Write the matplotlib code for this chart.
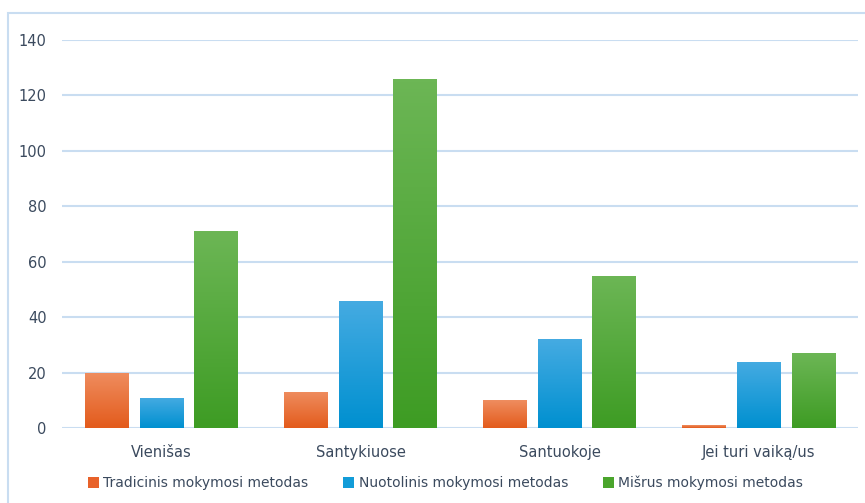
import matplotlib.pyplot as plt
import numpy as np
from matplotlib.colors import LinearSegmentedColormap
from matplotlib.patches import Rectangle, Patch

categories = ['Vienišas', 'Santykiuose', 'Santuokoje', 'Jei turi vaiką/us']
series = ['Tradicinis mokymosi metodas', 'Nuotolinis mokymosi metodas', 'Mišrus mokymosi metodas']
tradicinis = [20, 13, 10, 1]
nuotolinis = [11, 46, 32, 24]
misrus = [71, 126, 55, 27]
values = [tradicinis, nuotolinis, misrus]

# (top, bottom, legend) colours
colors = [('#EF8D5F', '#E35B1C', '#E8622A'),
          ('#45ABE2', '#0090D0', '#129CD8'),
          ('#6CB655', '#3E9C24', '#4AA52C')]

text_col = '#3B4A5E'
grid_col = '#C9DDF1'

fig = plt.figure(figsize=(8.65, 5.03), dpi=100)
ax = fig.add_axes([0.0717, 0.149, 0.9203, 0.7715])

x = np.arange(len(categories))
width = 0.221
step = 0.276
grad = np.linspace(0, 1, 100).reshape(-1, 1)

for i, vals in enumerate(values):
    top, bot, _ = colors[i]
    cmap = LinearSegmentedColormap.from_list('g%d' % i, [bot, top])
    bars = ax.bar(x + (i - 1) * step, vals, width, color='none', zorder=3)
    for b in bars:
        bx, by = b.get_x(), b.get_y()
        bw, bh = b.get_width(), b.get_height()
        im = ax.imshow(grad, cmap=cmap, aspect='auto', origin='lower',
                       extent=[bx, bx + bw, by, by + bh], zorder=3)
        im.set_clip_path(b)

ax.set_xlim(-0.5, len(categories) - 0.5)
ax.set_ylim(0, 140)
ax.set_yticks(range(0, 141, 20))
ax.set_xticks(x)
ax.set_xticklabels(categories)
ax.grid(axis='y', color=grid_col, linewidth=1.5, zorder=0)
ax.set_axisbelow(True)
for s in ax.spines.values():
    s.set_visible(False)
ax.tick_params(length=0, labelsize=10.5, colors=text_col)
ax.tick_params(axis='x', pad=12)
ax.tick_params(axis='y', pad=11)

handles = [Patch(facecolor=c[2]) for c in colors]
fig.legend(handles, series, loc='center', bbox_to_anchor=(0.515, 0.04), ncol=3,
           frameon=False, fontsize=10, labelcolor=text_col, handlelength=0.8,
           handleheight=0.8, handletextpad=0.3, columnspacing=2.5)

# light frame around the chart area
fig.patches.append(Rectangle((0.0087, -0.1), 1.2, 1.074, transform=fig.transFigure,
                             fill=False, edgecolor=grid_col, linewidth=1.5))

fig.savefig('out.png', dpi=100)
